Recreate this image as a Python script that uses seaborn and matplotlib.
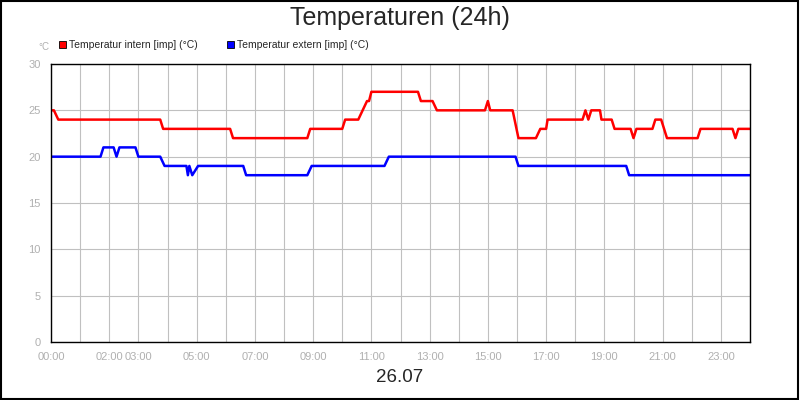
import matplotlib
matplotlib.use("Agg")
import matplotlib.pyplot as plt
import seaborn as sns
import pandas as pd
from matplotlib.patches import Rectangle

# hours, values (step points)
intern_h = [0, 0.1, 0.25, 3.75, 3.85, 6.15, 6.25, 8.8, 8.9, 10.0, 10.1, 10.55, 10.7, 10.85, 10.92, 11.0, 12.6, 12.7,
            13.1, 13.25, 14.9, 15.0, 15.08, 15.15, 15.85, 16.05, 16.65, 16.8, 17.0, 17.05, 18.25, 18.35, 18.45,
            18.55, 18.85, 18.9, 19.25, 19.35, 19.9, 20.0, 20.1, 20.65, 20.75, 20.95, 21.05, 21.15, 22.2, 22.3,
            23.4, 23.5, 23.6, 24.0]
intern_v = [25, 25, 24, 24, 23, 23, 22, 22, 23, 23, 24, 24, 25, 26, 26, 27, 27, 26,
            26, 25, 25, 26, 25, 25, 25, 22, 22, 23, 23, 24, 24, 25, 24,
            25, 25, 24, 24, 23, 23, 22, 23, 23, 24, 24, 23, 22, 22, 23,
            23, 22, 23, 23]
extern_h = [0, 1.7, 1.8, 2.15, 2.25, 2.35, 2.9, 3.0, 3.75, 3.9, 4.65, 4.7, 4.75, 4.85, 5.05, 6.6, 6.7, 8.8,
            8.95, 11.45, 11.6, 15.95, 16.05, 19.75, 19.85, 24.0]
extern_v = [20, 20, 21, 21, 20, 21, 21, 20, 20, 19, 19, 18, 19, 18, 19, 19, 18, 18,
            19, 19, 20, 20, 19, 19, 18, 18]
tick_hours = list(range(25))
tick_labels = ["00:00", "", "02:00", "03:00", "", "05:00", "", "07:00", "", "09:00", "", "11:00", "",
               "13:00", "", "15:00", "", "17:00", "", "19:00", "", "21:00", "", "23:00", ""]
s_int = "Temperatur intern [imp] (°C)"
s_ext = "Temperatur extern [imp] (°C)"

df = pd.concat([
    pd.DataFrame({"h": intern_h, "v": intern_v, "s": s_int}),
    pd.DataFrame({"h": extern_h, "v": extern_v, "s": s_ext}),
])

sns.set_style("white")
plt.rcParams["font.family"] = ["Liberation Sans", "DejaVu Sans"]
fig = plt.figure(figsize=(8, 4), dpi=100)
ax = fig.add_axes([51/800, 58/400, 699/800, 278/400])
sns.lineplot(data=df, x="h", y="v", hue="s", palette={s_int: "#ff0000", s_ext: "#0000ff"},
             linewidth=1.8, sort=False, legend=False, ax=ax, estimator=None)
ax.set_xlim(0, 24)
ax.set_ylim(0, 30)
ax.set_xticks(tick_hours)
ax.set_xticklabels(tick_labels, fontsize=8, color="#b0b0b0")
ax.set_yticks(range(0, 31, 5))
ax.set_yticklabels([str(v) for v in range(0, 31, 5)], fontsize=8, color="#b0b0b0")
ax.tick_params(length=4, color="#b0b0b0", direction="out")
ax.grid(True, color="#c0c0c0", linewidth=0.8)
for sp in ax.spines.values():
    sp.set_color("black"); sp.set_linewidth(1)
ax.set_xlabel(""); ax.set_ylabel("")

fig.text(0.5, 1 - 18/400, "Temperaturen (24h)", ha="center", va="center", fontsize=18)
fig.text(0.5, 1 - 378/400, "26.07", ha="center", va="center", fontsize=13.5)
fig.text(38/800, 1 - 47/400, "°C", ha="left", va="center", fontsize=7, color="#b0b0b0")
for x0, col, lab in [(59, "#ff0000", s_int), (227, "#0000ff", s_ext)]:
    fig.patches.append(Rectangle((x0/800, 1 - 48/400), 7/800, 7/400, transform=fig.transFigure,
                                 facecolor=col, edgecolor="black", linewidth=0.6))
    fig.text((x0 + 10)/800, 1 - 44.5/400, lab, ha="left", va="center", fontsize=7.5)
fig.patches.append(Rectangle((0.001, 0.002), 0.997, 0.996, transform=fig.transFigure,
                             fill=False, edgecolor="black", linewidth=1.5))
fig.savefig("out.png", dpi=100)
